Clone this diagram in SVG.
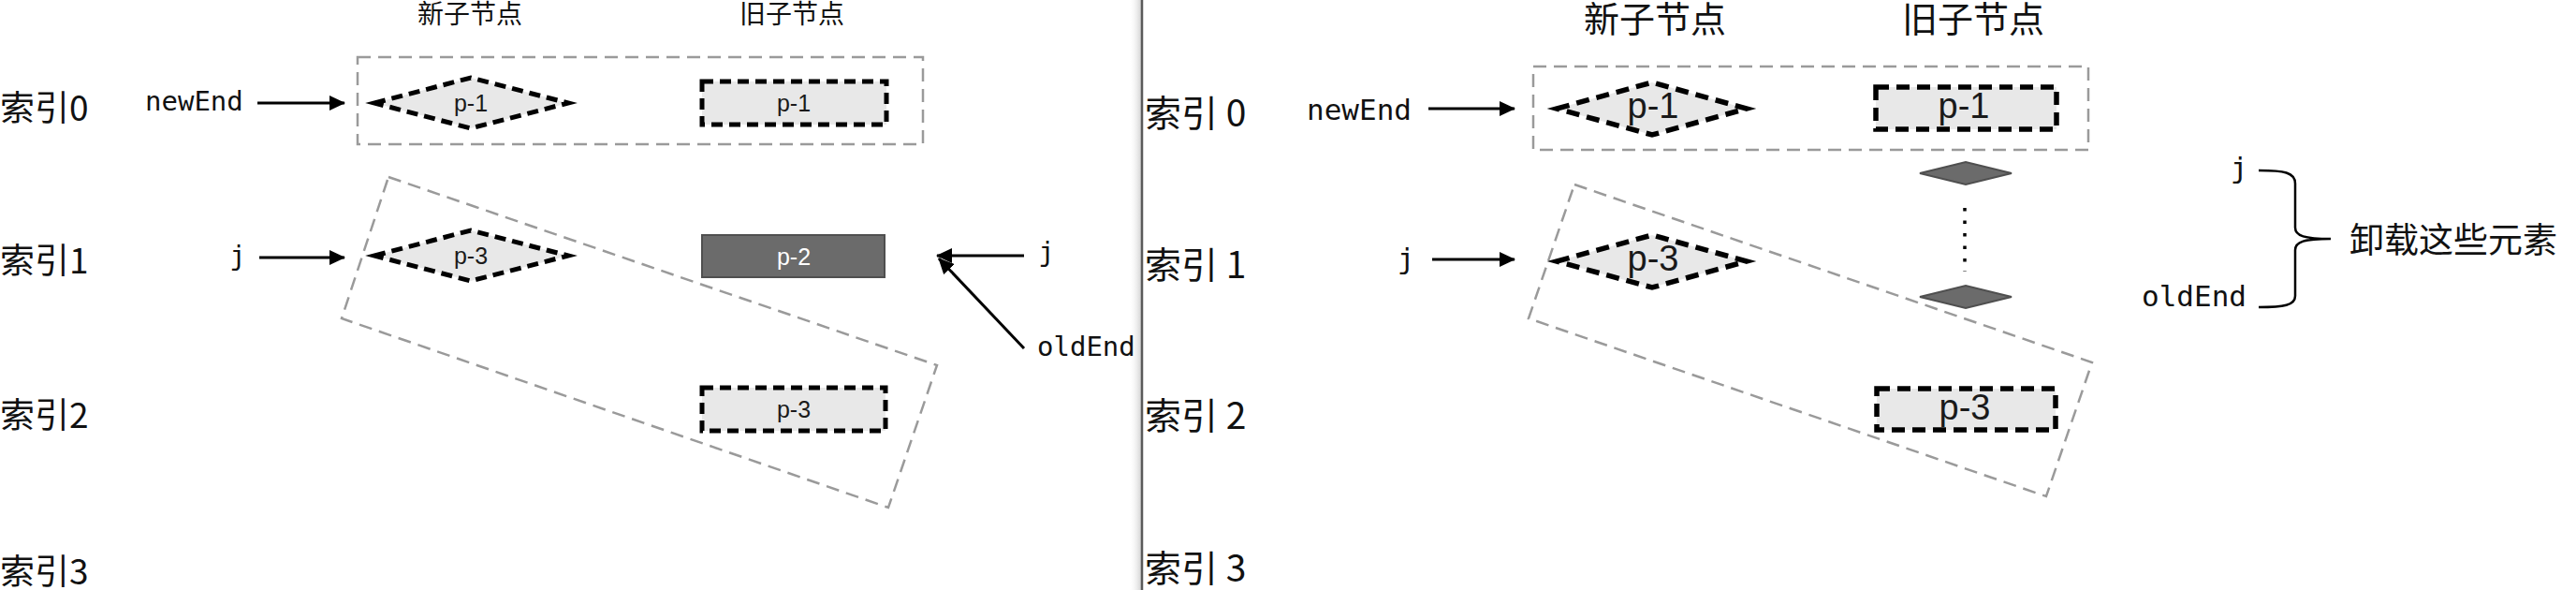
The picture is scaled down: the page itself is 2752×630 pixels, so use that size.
<svg xmlns="http://www.w3.org/2000/svg" width="2752" height="630" viewBox="0 0 2752 630">
<defs>
  <style>
    .cjk{font-family:"Noto Sans CJK SC","Noto Sans",sans-serif;fill:#111}
    .mono{font-family:"DejaVu Sans Mono","Liberation Mono",monospace;fill:#111}
    .lbl{font-family:"Liberation Sans",Arial,sans-serif;text-anchor:middle;fill:#1a1a1a}
    .lblw{font-family:"Liberation Sans",Arial,sans-serif;text-anchor:middle;fill:#ffffff}
    .group{fill:none;stroke:#9a9a9a;stroke-width:2.5;stroke-dasharray:14 8}
    .node{fill:#e8e8e8;stroke:#000;stroke-width:5;stroke-dasharray:12 7}
    .nodeR{fill:#e8e8e8;stroke:#000;stroke-width:5.5;stroke-dasharray:14 8}
    .dark{fill:#6b6b6b;stroke:#4f4f4f;stroke-width:2}
    .arrow{fill:none;stroke:#000;stroke-width:3;marker-end:url(#ah)}
  </style>
  <marker id="ah" markerUnits="userSpaceOnUse" markerWidth="18" markerHeight="16" refX="16" refY="8" orient="auto">
    <path d="M0,0 L17,8 L0,16 z" fill="#000"/>
  </marker>
  <linearGradient id="shadow" x1="0" y1="0" x2="1" y2="0">
    <stop offset="0" stop-color="#ffffff" stop-opacity="0"/>
    <stop offset="1" stop-color="#d4d4d4"/>
  </linearGradient>
</defs>
<rect width="2752" height="630" fill="#ffffff"/>

<!-- divider -->
<g id="divider">
  <rect x="1206" y="0" width="13" height="630" fill="url(#shadow)"/>
  <line x1="1220" y1="0" x2="1220" y2="630" stroke="#5a5a5a" stroke-width="2.5"/>
</g>

<!-- ===== LEFT PANEL ===== -->
<g id="left-titles">
  <text class="cjk" x="502" y="25" font-size="28" text-anchor="middle">新子节点</text>
  <text class="cjk" x="846" y="25" font-size="28" text-anchor="middle">旧子节点</text>
</g>
<g id="left-index">
  <text class="cjk" x="0" y="129" font-size="37">索引0</text>
  <text class="cjk" x="0" y="292" font-size="37">索引1</text>
  <text class="cjk" x="0" y="457" font-size="37">索引2</text>
  <text class="cjk" x="0" y="624" font-size="37">索引3</text>
</g>
<g id="left-group-top"><rect class="group" x="382" y="61" width="604" height="93"/></g>
<g id="left-group-rot"><polygon class="group" points="415,189 1001,390 949,542 365,340"/></g>

<g id="left-new-p1">
  <polygon class="node" points="400,110 503,83 607,110 503,137"/>
  <text class="lbl" x="503" y="119" font-size="25">p-1</text>
</g>
<g id="left-new-p3">
  <polygon class="node" points="400,273 503,246 607,273 503,300"/>
  <text class="lbl" x="503" y="282" font-size="25">p-3</text>
</g>
<g id="left-old-p1">
  <rect class="node" x="750" y="87" width="197" height="46"/>
  <text class="lbl" x="848" y="119" font-size="25">p-1</text>
</g>
<g id="left-old-p2">
  <rect class="dark" x="750" y="251" width="195" height="45"/>
  <text class="lblw" x="848" y="283" font-size="25">p-2</text>
</g>
<g id="left-old-p3">
  <rect class="node" x="750" y="414" width="196" height="46"/>
  <text class="lbl" x="848" y="446" font-size="25">p-3</text>
</g>
<g id="left-pointers">
  <text class="mono" x="155" y="118" font-size="29">newEnd</text>
  <text class="mono" x="254" y="283" font-size="29" text-anchor="middle">j</text>
  <text class="mono" x="1118" y="279" font-size="29" text-anchor="middle">j</text>
  <text class="mono" x="1108" y="380" font-size="29">oldEnd</text>
</g>
<g id="left-connectors">
  <line class="arrow" x1="275" y1="110" x2="368" y2="110"/>
  <line class="arrow" x1="277" y1="275" x2="368" y2="275"/>
  <line class="arrow" x1="1094" y1="273" x2="1001" y2="273"/>
  <line class="arrow" x1="1094" y1="372" x2="1003" y2="276"/>
</g>

<!-- ===== RIGHT PANEL ===== -->
<g id="right-titles">
  <text class="cjk" x="1768" y="34" font-size="38" text-anchor="middle">新子节点</text>
  <text class="cjk" x="2108" y="34" font-size="38" text-anchor="middle">旧子节点</text>
</g>
<g id="right-index">
  <text class="cjk" x="1223" y="135" font-size="39">索引 0</text>
  <text class="cjk" x="1223" y="297" font-size="39">索引 1</text>
  <text class="cjk" x="1223" y="458" font-size="39">索引 2</text>
  <text class="cjk" x="1223" y="621" font-size="39">索引 3</text>
</g>
<g id="right-group-top"><rect class="group" x="1638" y="71" width="593" height="89"/></g>
<g id="right-group-rot"><polygon class="group" points="1682,197 2235,387 2186,530 1633,340"/></g>

<g id="right-new-p1">
  <polygon class="nodeR" points="1663,116 1765,88 1866,116 1765,144"/>
  <text class="lbl" x="1766" y="126" font-size="38">p-1</text>
</g>
<g id="right-new-p3">
  <polygon class="nodeR" points="1663,279 1765,251 1866,279 1765,307"/>
  <text class="lbl" x="1766" y="289" font-size="38">p-3</text>
</g>
<g id="right-old-p1">
  <rect class="nodeR" x="2004" y="93" width="193" height="45"/>
  <text class="lbl" x="2098" y="126" font-size="38">p-1</text>
</g>
<g id="right-old-d1">
  <polygon class="dark" points="2051,185 2100,173 2149,185 2100,197"/>
</g>
<g id="right-old-dots">
  <line x1="2099" y1="222" x2="2099" y2="290" stroke="#000" stroke-width="3.5" stroke-dasharray="3.5 10"/>
</g>
<g id="right-old-d2">
  <polygon class="dark" points="2051,317 2100,305 2149,317 2100,329"/>
</g>
<g id="right-old-p3">
  <rect class="nodeR" x="2005" y="415" width="191" height="44"/>
  <text class="lbl" x="2099" y="448" font-size="38">p-3</text>
</g>
<g id="right-pointers">
  <text class="mono" x="1396" y="128" font-size="31">newEnd</text>
  <text class="mono" x="1502" y="287" font-size="31" text-anchor="middle">j</text>
  <text class="mono" x="2392" y="190" font-size="31" text-anchor="middle">j</text>
  <text class="mono" x="2288" y="327" font-size="31">oldEnd</text>
</g>
<g id="right-connectors">
  <line class="arrow" x1="1526" y1="116" x2="1618" y2="116"/>
  <line class="arrow" x1="1530" y1="277" x2="1618" y2="277"/>
  <path d="M2413,182 C2440,182 2452,184 2452,196 L2452,243 C2452,252 2462,255 2490,255 C2462,255 2452,258 2452,267 L2452,316 C2452,326 2440,328 2413,328" fill="none" stroke="#000" stroke-width="2.5"/>
</g>
<g id="right-note">
  <text class="cjk" x="2510" y="270" font-size="37">卸载这些元素</text>
</g>
</svg>
